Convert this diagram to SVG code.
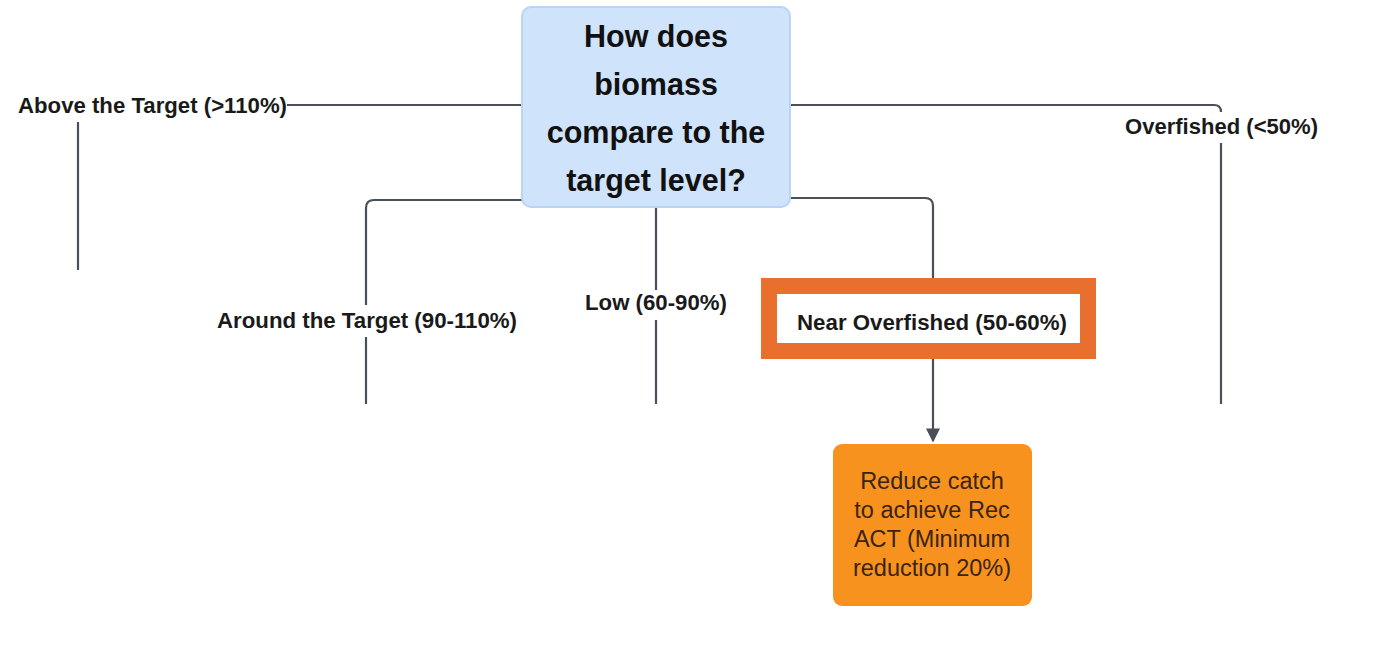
<svg xmlns="http://www.w3.org/2000/svg" width="1396" height="670" viewBox="0 0 1396 670">
  <style>
    .edge { fill: none; stroke: #4b4f57; stroke-width: 2.2; }
    .lbl { font-family: "Liberation Sans", Arial, sans-serif; font-weight: bold; font-size: 21.5px; fill: #1a1a1a; }
    .q { font-family: "Liberation Sans", Arial, sans-serif; font-weight: bold; font-size: 30.5px; fill: #111; text-anchor: middle; }
    .act { font-family: "Liberation Sans", Arial, sans-serif; font-size: 23.5px; fill: #3a2410; text-anchor: middle; }
  </style>
  <defs>
    <marker id="arrow" viewBox="0 0 10 10" refX="9" refY="5" markerWidth="16" markerHeight="14" markerUnits="userSpaceOnUse" orient="auto">
      <path d="M0,0 L10,5 L0,10 Z" fill="#4b4f57"/>
    </marker>
  </defs>
  <rect width="1396" height="670" fill="#ffffff"/>

  <g id="connectors">
    <!-- above target -->
    <path class="edge" d="M522,105 H287"/>
    <path class="edge" d="M78,122 V270"/>
    <!-- overfished -->
    <path class="edge" d="M790,105 H1214 Q1221,105 1221,112"/>
    <path class="edge" d="M1221,143 V404"/>
    <!-- around target -->
    <path class="edge" d="M522,200 H374 Q366,200 366,208 V305"/>
    <path class="edge" d="M366,337 V404"/>
    <!-- low -->
    <path class="edge" d="M656,207 V290"/>
    <path class="edge" d="M656,320 V404"/>
    <!-- near overfished -->
    <path class="edge" d="M790,198 H925 Q933,198 933,206 V441" marker-end="url(#arrow)"/>
  </g>

  <g id="question">
    <rect x="522" y="7" width="268" height="200" rx="9" fill="#cfe3fb" stroke="#b9d5f5" stroke-width="2"/>
    <text class="q" x="656" y="47">How does</text>
    <text class="q" x="656" y="95">biomass</text>
    <text class="q" x="656" y="143">compare to the</text>
    <text class="q" x="656" y="191">target level?</text>
  </g>

  <g id="label-above">
    <text class="lbl" x="18" y="113" textLength="269" lengthAdjust="spacingAndGlyphs">Above the Target (&gt;110%)</text>
  </g>
  <g id="label-overfished">
    <text class="lbl" x="1125" y="134" textLength="193" lengthAdjust="spacingAndGlyphs">Overfished (&lt;50%)</text>
  </g>
  <g id="label-around">
    <rect x="214" y="305" width="306" height="32" fill="#ffffff"/>
    <text class="lbl" x="217" y="328" textLength="300" lengthAdjust="spacingAndGlyphs">Around the Target (90-110%)</text>
  </g>
  <g id="label-low">
    <rect x="582" y="290" width="148" height="30" fill="#ffffff"/>
    <text class="lbl" x="585" y="310" textLength="142" lengthAdjust="spacingAndGlyphs">Low (60-90%)</text>
  </g>
  <g id="label-near">
    <rect x="769" y="286" width="319" height="65" fill="#ffffff" stroke="#e86f2e" stroke-width="16"/>
    <text class="lbl" x="797" y="330" textLength="270" lengthAdjust="spacingAndGlyphs">Near Overfished (50-60%)</text>
  </g>

  <g id="action">
    <rect x="833" y="444" width="199" height="162" rx="9" fill="#f7921f"/>
    <text class="act" x="932" y="489">Reduce catch</text>
    <text class="act" x="932" y="518">to achieve Rec</text>
    <text class="act" x="932" y="547">ACT (Minimum</text>
    <text class="act" x="932" y="576">reduction 20%)</text>
  </g>
</svg>
